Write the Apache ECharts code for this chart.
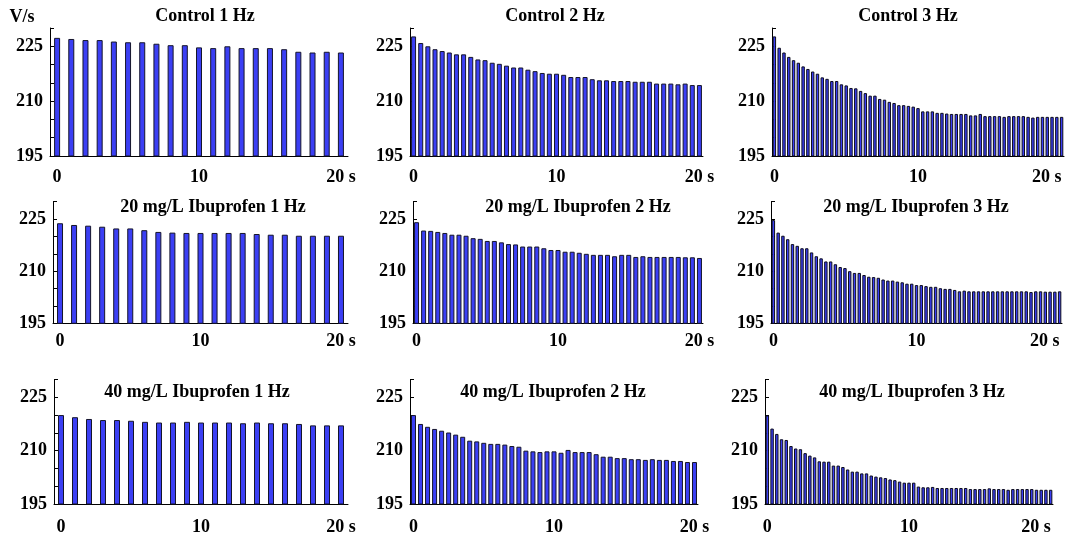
<!DOCTYPE html>
<html>
<head>
<meta charset="utf-8">
<script src="https://cdn.jsdelivr.net/npm/echarts@6/dist/echarts.min.js"></script>
<style>
html,body{margin:0;padding:0;background:#fff;}
#chart{width:1069px;height:541px;}
</style>
</head>
<body>
<div id="chart"></div>
<script>
// ---------- data (V/s) ----------
const yTickLabels = [195, 210, 225];
const xTickLabels = ['0', '10', '20 s'];
const yUnit = 'V/s';

const titles = [
  'Control 1 Hz', 'Control 2 Hz', 'Control 3 Hz',
  '20 mg/L Ibuprofen 1 Hz', '20 mg/L Ibuprofen 2 Hz', '20 mg/L Ibuprofen 3 Hz',
  '40 mg/L Ibuprofen 1 Hz', '40 mg/L Ibuprofen 2 Hz', '40 mg/L Ibuprofen 3 Hz'
];
const freqs = [1, 2, 3, 1, 2, 3, 1, 2, 3];

const control1Hz = [227.3,227.0,226.7,226.7,226.3,226.1,226.1,225.7,225.3,225.3,224.7,224.5,225.0,224.5,224.5,224.5,224.2,223.5,223.3,223.5,223.3];
const control2Hz = [227.7,225.9,225.0,224.2,223.7,223.3,222.8,222.8,222.1,221.4,
  221.2,220.5,220.2,219.7,219.2,219.2,218.6,218.2,217.7,217.5,
  217.5,217.2,216.6,216.6,216.6,216.0,215.7,215.7,215.5,215.5,
  215.5,215.3,215.3,215.3,214.8,214.8,214.8,214.6,214.8,214.4,214.4];
const control3Hz = [227.7,224.6,223.3,222.1,221.2,220.5,219.5,218.8,218.1,217.5,
  216.5,216.1,215.5,215.5,214.6,214.3,213.6,213.5,212.8,212.2,
  211.5,211.5,210.6,210.4,209.8,209.5,208.9,208.9,208.7,208.5,
  208.1,207.2,207.2,207.2,206.8,206.8,206.6,206.5,206.5,206.5,
  206.5,206.1,206.1,206.5,205.9,205.9,205.9,205.9,205.7,205.9,
  205.9,205.9,205.9,205.7,205.5,205.7,205.7,205.7,205.7,205.7,205.7];
const ibu20_1Hz = [223.8,223.3,223.1,222.8,222.3,222.3,221.8,221.3,221.1,221.0,221.0,221.0,221.0,221.0,220.7,220.5,220.5,220.2,220.2,220.2,220.2];
const ibu20_2Hz = [224.1,221.7,221.6,221.3,221.0,220.5,220.5,220.2,219.5,219.3,
  218.7,218.7,218.3,217.8,217.7,217.1,217.1,217.1,216.6,216.1,
  216.1,215.6,215.6,215.3,215.0,214.7,214.7,214.7,214.3,214.7,
  214.7,214.1,214.3,214.1,214.1,214.1,214.1,214.1,214.0,214.0,213.8];
const ibu20_3Hz = [224.7,221.1,220.2,219.2,217.8,217.3,216.6,216.6,215.4,214.3,
  213.7,212.8,212.8,212.0,211.2,210.9,210.0,209.5,209.5,208.9,
  208.4,208.3,208.1,207.6,207.3,207.3,207.0,206.8,206.4,206.4,
  206.0,206.0,205.7,205.5,205.5,205.1,204.9,204.9,204.6,204.2,
  204.4,204.2,204.2,204.2,204.2,204.2,204.2,204.2,204.2,204.2,
  204.2,204.2,204.2,204.2,204.0,204.2,204.2,204.1,204.1,204.1,204.2];
const ibu40_1Hz = [220.0,219.4,218.9,218.6,218.6,218.4,218.1,217.9,217.9,218.1,217.9,217.9,217.9,217.7,217.9,217.7,217.7,217.5,217.1,217.1,217.1];
const ibu40_2Hz = [220.0,217.5,216.7,216.1,215.6,215.1,214.5,213.9,212.8,212.6,
  212.2,211.9,211.9,211.7,211.3,211.1,210.0,209.8,209.6,209.8,
  209.8,209.4,210.2,209.6,209.6,209.6,209.0,208.3,208.3,207.9,
  207.9,207.6,207.6,207.4,207.6,207.4,207.4,207.1,207.1,206.8,206.8];
const ibu40_3Hz = [219.9,216.2,214.7,213.2,213.0,211.3,210.6,210.4,209.3,208.6,
  208.1,207.0,206.9,206.9,205.8,205.8,205.4,204.7,204.1,204.1,
  203.6,203.6,203.0,202.7,202.5,202.3,201.9,201.7,201.3,201.0,
  201.0,201.0,199.9,199.7,199.7,199.8,199.5,199.5,199.5,199.5,
  199.5,199.5,199.5,199.2,199.2,199.2,199.2,199.4,199.2,199.2,
  199.2,199.0,199.2,199.2,199.2,199.2,199.2,199.0,199.0,199.0,199.0];

const seriesData = [control1Hz, control2Hz, control3Hz, ibu20_1Hz, ibu20_2Hz, ibu20_3Hz, ibu40_1Hz, ibu40_2Hz, ibu40_3Hz];

// ---------- layout (px) ----------
const grids = [
  {left: 50,  top: 28,    width: 298, height: 128},
  {left: 410, top: 28,    width: 293, height: 128},
  {left: 772, top: 28,    width: 292, height: 128},
  {left: 53,  top: 201.7, width: 295, height: 121.6},
  {left: 413, top: 201.7, width: 290, height: 121.6},
  {left: 771, top: 201.7, width: 291, height: 121.6},
  {left: 54,  top: 379.5, width: 294, height: 124.5},
  {left: 410, top: 379.5, width: 288, height: 124.5},
  {left: 765, top: 379.5, width: 288, height: 124.5}
];
const titlePos = [[205,16],[555,16],[908,16],[213,207],[578,207],[916,207],[197,392],[553,392],[912,392]];
const xLabelMargin = [12,12,12,9,9,9,14,14,14];
const barWidths = {1: 6, 2: 5, 3: 3.4};
const barBorder = {1: '#15152a', 2: '#15152a', 3: '#0c0c1c'};

const FONT = 'Liberation Serif';
const labelStyle = {fontFamily: FONT, fontWeight: 'bold', fontSize: 18, color: '#000'};

const option = {
  animation: false,
  backgroundColor: '#fff',
  grid: [], xAxis: [], yAxis: [], series: [],
  graphic: []
};

seriesData.forEach((vals, k) => {
  const f = freqs[k];
  const step = 10 * f;
  const cats = vals.map((v, i) => String(i));
  const g = grids[k];
  option.grid.push({left: g.left, top: g.top, width: g.width, height: g.height, containLabel: false});
  const showIdx = (idx) => idx % step === 0;
  option.xAxis.push({
    type: 'category', gridIndex: k, data: cats, boundaryGap: true,
    axisLine: {show: true, lineStyle: {color: '#000', width: 1}},
    axisTick: {show: true, inside: true, length: 4, alignWithLabel: true, interval: showIdx, lineStyle: {color: '#000'}},
    axisLabel: Object.assign({
      interval: showIdx, margin: xLabelMargin[k],
      alignMaxLabel: f === 3 ? 'right' : 'center',
      formatter: (val, idx) => xTickLabels[Math.round(idx / step)] || ''
    }, labelStyle),
    splitLine: {show: false}
  });
  option.yAxis.push({
    type: 'value', gridIndex: k, min: 195, max: 230, interval: 5,
    axisLine: {show: true, lineStyle: {color: '#000', width: 1}},
    axisTick: {show: true, inside: true, length: 4, lineStyle: {color: '#000'}},
    axisLabel: Object.assign({
      margin: 7,
      formatter: (v) => yTickLabels.indexOf(v) >= 0 ? String(v) : ''
    }, labelStyle),
    splitLine: {show: false}
  });
  option.series.push({
    type: 'bar', xAxisIndex: k, yAxisIndex: k, data: vals,
    barWidth: barWidths[f],
    itemStyle: {color: '#3b3ff4', borderColor: barBorder[f], borderWidth: 1}
  });
  option.graphic.push({
    type: 'text', x: titlePos[k][0], y: titlePos[k][1],
    style: {text: titles[k], fontFamily: FONT, fontWeight: 'bold', fontSize: 18, fill: '#000', align: 'center', verticalAlign: 'middle'}
  });
});

option.graphic.push({
  type: 'text', x: 22, y: 17,
  style: {text: yUnit, fontFamily: FONT, fontWeight: 'bold', fontSize: 18, fill: '#000', align: 'center', verticalAlign: 'middle'}
});

const chart = echarts.init(document.getElementById('chart'), null, {renderer: 'canvas'});
chart.setOption(option);
</script>
</body>
</html>
